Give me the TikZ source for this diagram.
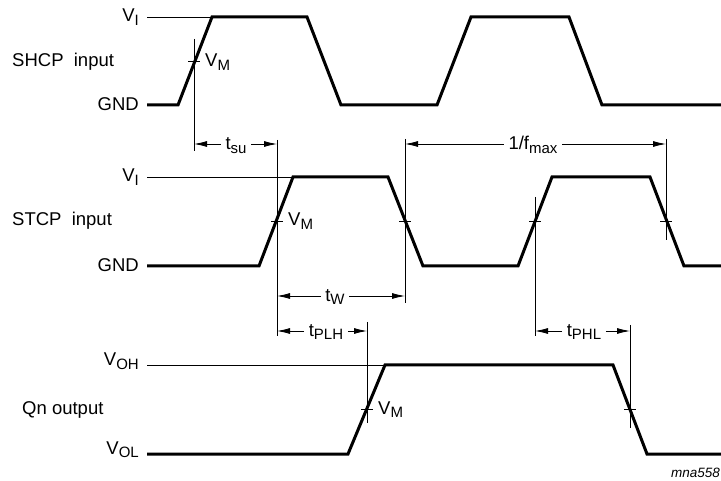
\documentclass[tikz,border=0pt]{standalone}
\usepackage{fontspec}
\setmainfont{Liberation Sans}
\usetikzlibrary{arrows.meta}
\newcommand{\lowsub}[1]{\raisebox{-3.5pt}{\fontsize{15}{15}\selectfont #1}}
\tikzstyle{wave}=[line width=3pt,line join=miter]
\tikzstyle{lvl}=[line width=0.8pt]
\tikzstyle{dim}=[line width=0.8pt,-{Latex[length=13pt,width=6pt]}]
\tikzstyle{lbl}=[font=\fontsize{18.5}{21}\selectfont,inner sep=0pt]
\tikzstyle{dlbl}=[font=\fontsize{18.5}{21}\selectfont,inner xsep=4.5pt,inner ysep=0pt,anchor=base]

\begin{document}
\begin{tikzpicture}[x=1pt,y=-1pt]
\useasboundingbox (0,0) rectangle (721,481);
\draw[wave] (147,105)--(178,105)--(212,17)--(307,17)--(341,105)--(437,105)--(471,17)--(569,17)--(602,105)--(721,105);
\draw[lvl] (147,17) -- (212,17);
\draw[wave] (147,266)--(259,266)--(293,177)--(388,177)--(423,266)--(518,266)--(552,177)--(650,177)--(684,266)--(721,266);
\draw[lvl] (147,177) -- (293,177);
\draw[wave] (147,454)--(348,454)--(385,365)--(613,365)--(647,454)--(721,454);
\draw[lvl] (147,365) -- (385,365);
\draw[lvl] (194,39) -- (194,151);
\draw[lvl] (277,140) -- (277,336);
\draw[lvl] (405,139) -- (405,303);
\draw[lvl] (535,197) -- (535,336);
\draw[lvl] (666,139) -- (666,240);
\draw[lvl] (367,322) -- (367,423);
\draw[lvl] (630,325) -- (630,428);
\draw[lvl] (188,61) -- (200,61);
\draw[lvl] (271,221) -- (283,221);
\draw[lvl] (399,221) -- (411,221);
\draw[lvl] (529,221) -- (541,221);
\draw[lvl] (660,221) -- (672,221);
\draw[lvl] (361,409) -- (373,409);
\draw[lvl] (624,409) -- (636,409);
\node[lbl,anchor=base east] (vi1) at (139,22) {V\lowsub{I}};
\node[lbl,anchor=base east] (gnd1) at (139,111) {GND};
\node[lbl,anchor=base west] (shcp) at (12,67) {SHCP~~input};
\node[lbl,anchor=base west] (vm1) at (205,67) {V\lowsub{M}};
\node[lbl,anchor=base east] (vi2) at (139,182) {V\lowsub{I}};
\node[lbl,anchor=base east] (gnd2) at (139,272) {GND};
\node[lbl,anchor=base west] (stcp) at (12,226) {STCP~~input};
\node[lbl,anchor=base west] (vm2) at (288,226) {V\lowsub{M}};
\node[lbl,anchor=base east] (voh) at (139,366) {V\lowsub{OH}};
\node[lbl,anchor=base east] (vol) at (139,454) {V\lowsub{OL}};
\node[lbl,anchor=base west] (qn) at (22,414) {Qn output};
\node[lbl,anchor=base west] (vm3) at (378,414) {V\lowsub{M}};
\coordinate (su1) at (194,144);
\coordinate (su2) at (277,144);
\coordinate (fm1) at (405,144);
\coordinate (fm2) at (666,144);
\coordinate (w1) at (277,296);
\coordinate (w2) at (405,296);
\coordinate (lh1) at (277,331);
\coordinate (lh2) at (367,331);
\coordinate (hl1) at (535,331);
\coordinate (hl2) at (630,331);
\node[dlbl] (tsu) at (236,150) {t\lowsub{su}};
\node[dlbl] (fmax) at (533,150) {1/f\lowsub{max}};
\node[dlbl] (tw) at (335,301.5) {t\lowsub{W}};
\node[dlbl] (tplh) at (326,336.5) {t\lowsub{PLH}};
\node[dlbl] (tphl) at (584,336.5) {t\lowsub{PHL}};
\draw[dim] (tsu.west |- su1) -- (su1);
\draw[dim] (tsu.east |- su2) -- (su2);
\draw[dim] (fmax.west |- fm1) -- (fm1);
\draw[dim] (fmax.east |- fm2) -- (fm2);
\draw[dim] (tw.west |- w1) -- (w1);
\draw[dim] (tw.east |- w2) -- (w2);
\draw[dim] (tplh.west |- lh1) -- (lh1);
\draw[dim] (tplh.east |- lh2) -- (lh2);
\draw[dim] (tphl.west |- hl1) -- (hl1);
\draw[dim] (tphl.east |- hl2) -- (hl2);
\node[font=\fontsize{13.5}{15}\selectfont\itshape,anchor=base east,inner sep=0pt] (fig) at (720,477) {mna558};
\end{tikzpicture}
\end{document}
